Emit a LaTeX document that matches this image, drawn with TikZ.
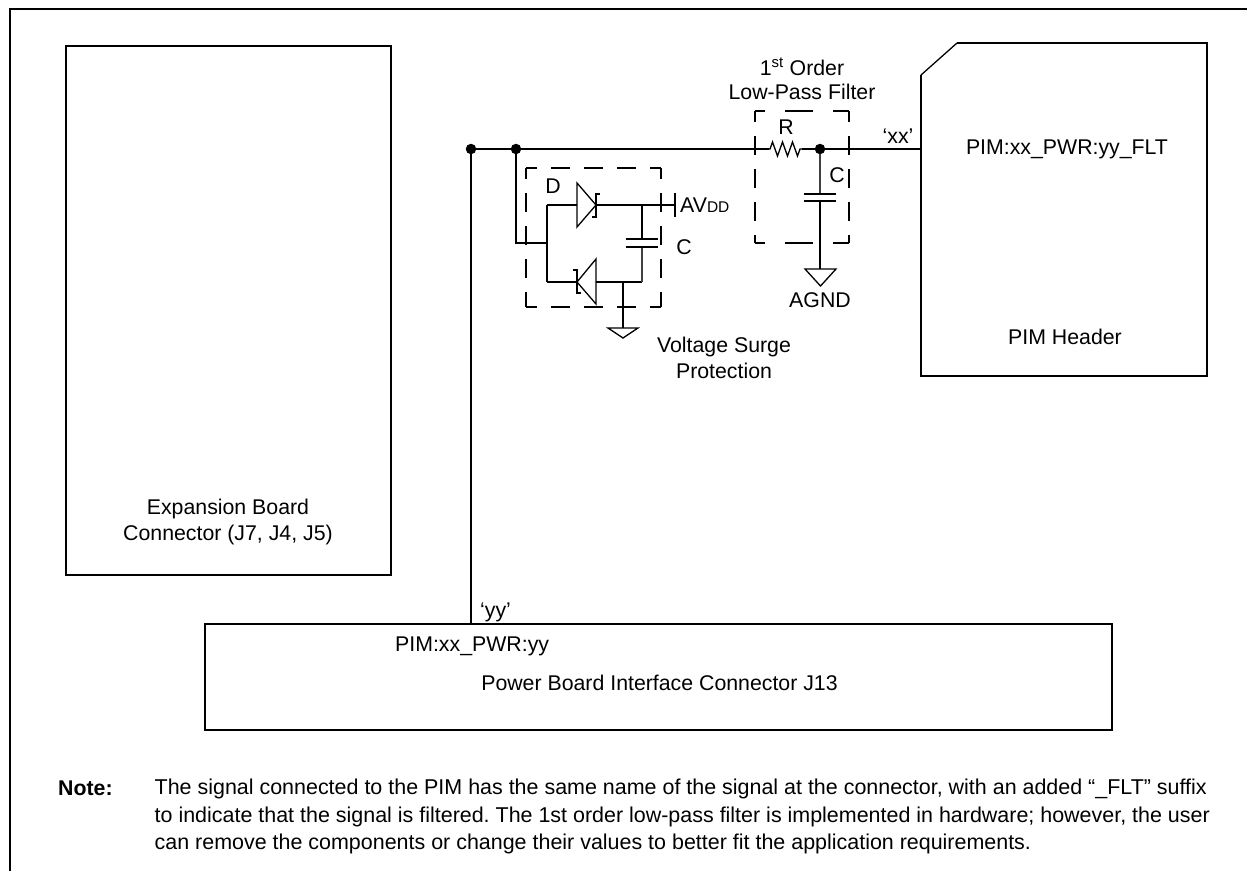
\documentclass[tikz,border=0pt]{standalone}
\usepackage{fontspec}
\setmainfont{Liberation Sans}
\frenchspacing
\usetikzlibrary{positioning,shapes.geometric,decorations.pathmorphing}

\begin{document}
\begin{tikzpicture}[
        x=1pt, y=-1pt,
        lbl/.style={inner sep=0pt, align=center, font=\fontsize{21.3}{26.5}\selectfont},
        wire/.style={line width=1.8pt},
        thinwire/.style={line width=1.1pt, black!75},
        boxed/.style={draw, line width=2pt, inner sep=0pt},
        dashbox/.style={line width=1.8pt, dash pattern=on 19pt off 14pt, dash phase=8pt},
        dot/.style={circle, fill, inner sep=0pt, minimum size=10.5pt},
        diode/.style={line width=1.3pt, line join=miter},
        plate/.style={line width=1.8pt},
        res/.style={line width=1.3pt, decorate, decoration={zigzag, segment length=10pt, amplitude=7pt, pre length=1pt, post length=1pt}}
    ]
        \useasboundingbox (0,0) rectangle (1247,871);

        % page frame
        \coordinate (F0) at (10,871);
        \coordinate (F1) at (10,9);
        \coordinate (F2) at (1247,9);
        \draw[line width=2.2pt] (F0) -- (F1) -- (F2);

        % big blocks
        \node[boxed, minimum width=325pt, minimum height=529pt] (EXP) at (228.5,310.5) {};
        \node[boxed, minimum width=907pt, minimum height=106pt] (PWR) at (658.5,677) {};
        \coordinate (P0) at (921,75);
        \coordinate (P1) at (957,43);
        \coordinate (P2) at (1207,43);
        \coordinate (P3) at (1207,376);
        \coordinate (P4) at (921,376);
        \draw[line width=2pt] (P1) -- (P2) -- (P3) -- (P4) -- (P0);
        \draw[line width=1.3pt] (P0) -- (P1);

        % rail
        \node[dot] (J1) at (471,149) {};
        \node[dot] (J2) at (516,149) {};
        \node[dot] (J3) at (820,149) {};
        \coordinate (RL) at (769,149);
        \coordinate (RR) at (802,149);
        \coordinate (PIN) at (921,149);
        \coordinate (PB) at (471,624);
        \draw[wire] (J1) -- (RL);
        \draw[wire] (RR) -- (PIN);
        \draw[wire] (J1) -- (PB);
        \draw[res] (RL) -- (RR);

        % low-pass filter
        \coordinate (CA) at (820,194);
        \coordinate (CB) at (820,201);
        \coordinate (AG) at (820,269);
        \draw[thinwire] (J3) -- (CA);
        \draw[wire] (CB) -- (AG);
        \foreach \name in {CA,CB} {
            \draw[plate] ([xshift=-16pt]\name) -- ([xshift=16pt]\name);
        }
        \draw[diode] (805,269) -- (836,269) -- (820.5,286) -- cycle;
        \coordinate (FA) at (755,111);
        \coordinate (FB) at (849,111);
        \coordinate (FC) at (849,243);
        \coordinate (FD) at (755,243);
        \draw[dashbox] (FA) -- (FD);
        \draw[dashbox] (FB) -- (FC);
        \foreach \from/\to in {FA/FB, FD/FC} {
            \draw[dashbox, dash pattern=on 28pt off 20pt, dash phase=18pt] (\from) -- (\to);
        }

        % surge protection
        \coordinate (S0) at (516,243);
        \coordinate (S1) at (547,243);
        \coordinate (S2) at (547,205);
        \coordinate (S3) at (547,282);
        \coordinate (DA) at (577,205);
        \coordinate (DB) at (596,205);
        \coordinate (DC) at (577,282);
        \coordinate (DD) at (596,282);
        \coordinate (N1) at (642,205);
        \coordinate (N2) at (642,282);
        \coordinate (N3) at (623,282);
        \coordinate (AV) at (675,205);
        \coordinate (GN) at (623,328);
        \draw[wire] (J2) -- (S0) -- (S1);
        \draw[wire] (S2) -- (S3);
        \draw[wire] (S2) -- (DA);
        \draw[wire] (S3) -- (DC);
        \draw[wire] (DB) -- (AV);
        \draw[wire] (DD) -- (N2);
        \draw[wire] (N3) -- (GN);
        \draw[wire] ([yshift=-12pt]AV) -- ([yshift=12pt]AV);

        % diodes
        \draw[diode] (577,183) -- (596,205) -- (577,227) -- cycle;
        \draw[diode] (596,259) -- (577,282) -- (596,304) -- cycle;
        \draw[diode] (600,194) -- (596,194) -- (596,217) -- (592,217);
        \draw[diode] (573,270) -- (577,270) -- (577,293) -- (581,293);

        % surge capacitor
        \coordinate (C2A) at (642,239);
        \coordinate (C2B) at (642,247);
        \draw[wire] (N1) -- (C2A);
        \draw[thinwire] (C2B) -- (N2);
        \foreach \name in {C2A,C2B} {
            \draw[plate] ([xshift=-16pt]\name) -- ([xshift=16pt]\name);
        }
        \draw[diode] (608,328) -- (638,328) -- (623,338) -- cycle;
        \coordinate (SA) at (526,168);
        \coordinate (SB) at (661,168);
        \coordinate (SC) at (661,307);
        \coordinate (SD) at (526,307);
        \foreach \from/\to in {SA/SB, SA/SD, SB/SC, SD/SC} {
            \draw[dashbox] (\from) -- (\to);
        }

        % labels
        \node[lbl] (LF) at (802,79) {1\textsuperscript{st} Order\\[-2pt]Low-Pass Filter};
        \node[lbl] (LR) at (786,127) {R};
        \node[lbl] (LC) at (837,175) {C};
        \node[lbl] (LG) at (820,300) {AGND};
        \node[lbl] (LX) at (898,136) {‘xx’};
        \node[lbl] (LP) at (1067,149.5) {PIM:xx\_PWR:yy\_FLT};
        \node[lbl] (LH) at (1065,337) {PIM Header};
        \node[lbl] (LD) at (553,186) {D};
        \node[lbl, anchor=west] (LV) at (680,205) {AV{\fontsize{15.5}{18}\selectfont DD}};
        \node[lbl] (LE) at (684,247) {C};
        \node[lbl] (LS) at (724,358) {Voltage Surge\\Protection};
        \node[lbl] (LB) at (228,522) {Expansion Board\\Connector (J7, J4, J5)};
        \node[lbl, anchor=west] (LY) at (480,612) {‘yy’};
        \node[lbl, anchor=west] (LI) at (395,646.5) {PIM:xx\_PWR:yy};
        \node[lbl] (LJ) at (659.5,683) {Power Board Interface Connector J13};

        % note
        \node[lbl, anchor=west, font=\fontsize{21.3}{26.5}\selectfont\bfseries] (LN) at (58,788) {Note:};
        \node[lbl, anchor=west, align=left, font=\fontsize{21.45}{27.3}\selectfont] (LT) at (154.5,816.5) {The signal connected to the PIM has the same name of the signal at the connector, with an added “\_FLT” suffix\\to indicate that the signal is filtered. The 1st order low-pass filter is implemented in hardware; however, the user\\can remove the components or change their values to better fit the application requirements.};
    \end{tikzpicture}
\end{document}
